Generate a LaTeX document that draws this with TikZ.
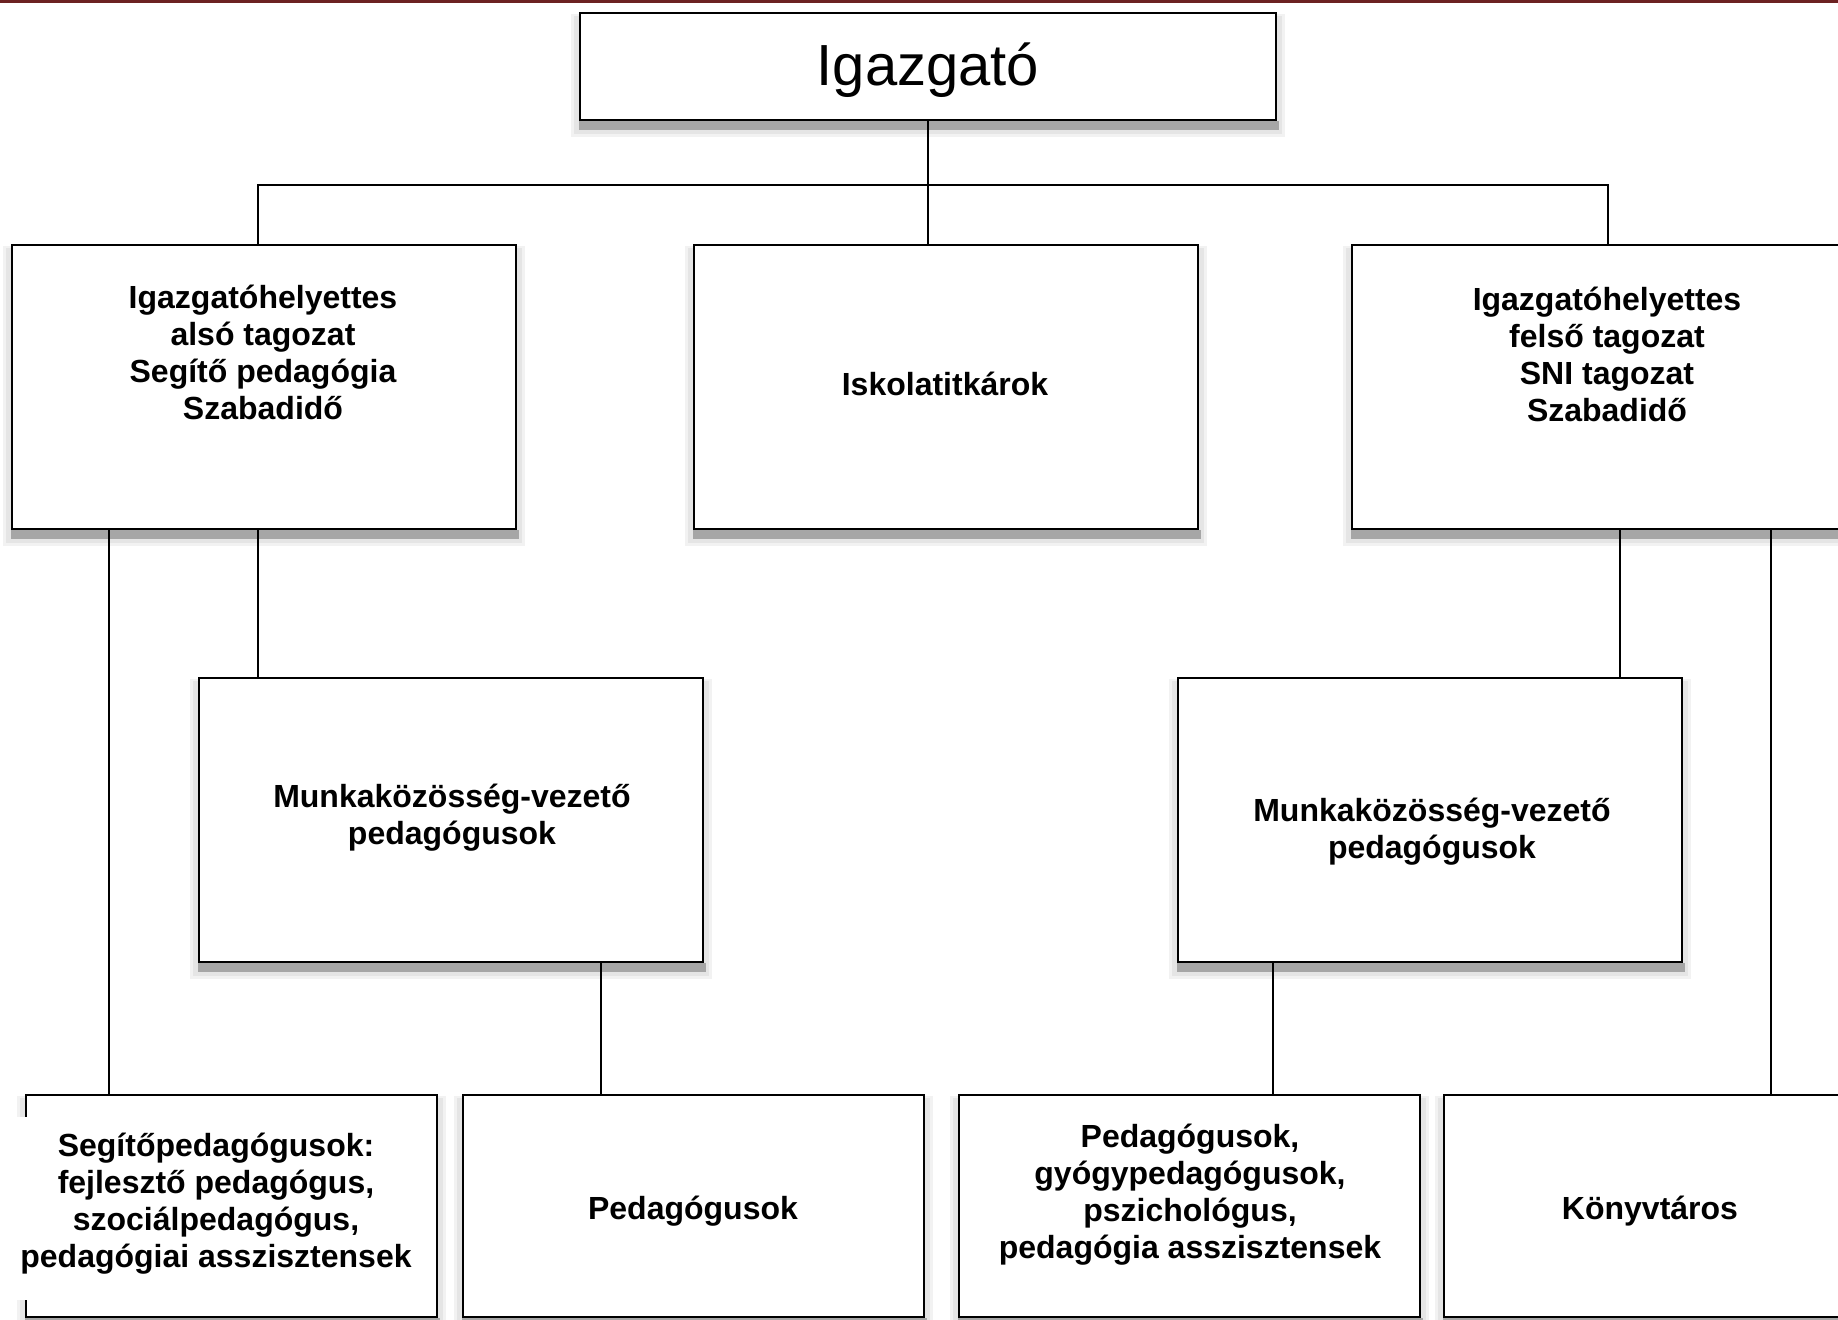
\documentclass[tikz,border=0pt]{standalone}
\usepackage{fontspec}
\setmainfont{Liberation Sans}
\usetikzlibrary{calc,backgrounds}
\definecolor{topred}{RGB}{108,34,34}
\tikzset{
  orgbox/.style={draw=black, line width=0.8pt, fill=white, inner sep=0pt, minimum width=252pt, minimum height=142pt},
  lowbox/.style={orgbox, minimum width=230.5pt, minimum height=111pt},
  lbl/.style={align=center, font=\fontsize{16}{18.5}\selectfont\bfseries, inner sep=0pt},
  conn/.style={draw=black, line width=0.8pt},
}
\newcommand\mkshadow[1]{%
  \fill[black!5] ($(#1.north west)+(-8,2)$) rectangle ($(#1.south east)+(8,16)$);
  \fill[black!10] ($(#1.north west)+(-5,4)$) rectangle ($(#1.south east)+(5,13)$);
  \fill[black!35] ($(#1.south west)+(0,0)$) rectangle ($(#1.south east)+(2,9)$);
}
\begin{document}
\begin{tikzpicture}[x=0.5pt,y=-0.5pt]
\useasboundingbox (0,0) rectangle (1838,1319);
% boxes
\node[orgbox, minimum width=348pt, minimum height=53.5pt] (igaz) at (928,66.5) {};
\node[orgbox] (ih1) at (264,387) {};
\node[orgbox] (titk) at (946,387) {};
\node[orgbox] (ih2) at (1604,387) {};
\node[orgbox] (mk1) at (451,820) {};
\node[orgbox] (mk2) at (1430,820) {};
\node[lowbox, minimum width=205.5pt] (seg) at (231.5,1206) {};
\node[lowbox] (ped1) at (693.5,1206) {};
\node[lowbox] (ped2) at (1189.5,1206) {};
\node[lowbox] (konyv) at (1674.5,1206) {};
% background and shadows
\begin{scope}[on background layer]
  \fill[white] (0,0) rectangle (1838,1319);
  \foreach \n in {igaz,ih1,titk,ih2,mk1,mk2,seg,ped1,ped2,konyv} {\mkshadow{\n}}
\end{scope}
\fill[topred] (0,0) rectangle (1838,2.5);
% texts
\node[font=\fontsize{29}{34}\selectfont, inner sep=0pt] (tigaz) at (928,70.5) {Igazgató};
\node[lbl] (tih1) at (263,352.5) {Igazgatóhelyettes\\alsó tagozat\\Segítő pedagógia\\Szabadidő};
\node[lbl] (ttitk) at (945,383.5) {Iskolatitkárok};
\node[lbl] (tih2) at (1607,354) {Igazgatóhelyettes\\felső tagozat\\SNI tagozat\\Szabadidő};
\node[lbl] (tmk1) at (452,817.5) {Munkaközösség-vezető\\pedagógusok};
\node[lbl] (tmk2) at (1432,831.5) {Munkaközösség-vezető\\pedagógusok};
\node[fill=white, inner sep=0pt, minimum width=200pt, minimum height=91.5pt] (segmask) at (216,1208.5) {};
\node[lbl] (tseg) at (216,1203.5) {Segítőpedagógusok:\\fejlesztő pedagógus,\\szociálpedagógus,\\pedagógiai asszisztensek};
\node[lbl] (tped1) at (693,1211.5) {Pedagógusok};
\node[lbl] (tped2) at (1190,1195) {Pedagógusok,\\gyógypedagógusok,\\pszichológus,\\pedagógia asszisztensek};
\node[lbl] (tkonyv) at (1650,1211.5) {Könyvtáros};
% connectors
\coordinate (bus) at (928,185);
\draw[conn] (igaz.south) -- (bus);
\draw[conn] ([xshift=-3pt]ih1.north) |- (bus) -| ([xshift=2pt]ih2.north);
\draw[conn] (bus) -- (bus |- titk.north);
\coordinate (c1) at ([xshift=49pt]ih1.south west);
\draw[conn] (c1) -- (c1 |- seg.north);
\coordinate (c2) at ([xshift=-3pt]ih1.south);
\draw[conn] (c2) -- (c2 |- mk1.north);
\coordinate (c3) at ([xshift=-51.5pt]mk1.south east);
\draw[conn] (c3) -- (c3 |- ped1.north);
\coordinate (c4) at ([xshift=134.5pt]ih2.south west);
\draw[conn] (c4) -- (c4 |- mk2.north);
\coordinate (c5) at ([xshift=210pt]ih2.south west);
\draw[conn] (c5) -- (c5 |- konyv.north);
\coordinate (c6) at ([xshift=48pt]mk2.south west);
\draw[conn] (c6) -- (c6 |- ped2.north);
\end{tikzpicture}
\end{document}
